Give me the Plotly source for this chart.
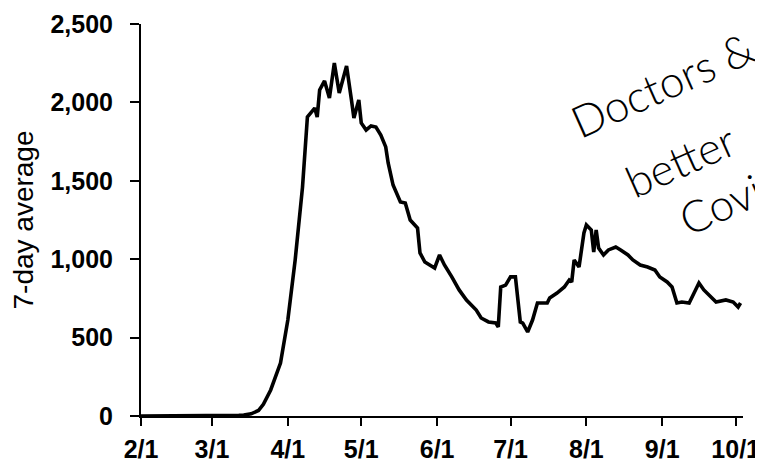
import plotly.graph_objects as go

# ---- data ----
dates = [
    "2020-02-01", "2020-02-15", "2020-02-29", "2020-03-08", "2020-03-12",
    "2020-03-14", "2020-03-17", "2020-03-20", "2020-03-22", "2020-03-25",
    "2020-03-27", "2020-03-29", "2020-04-01", "2020-04-04", "2020-04-07",
    "2020-04-09", "2020-04-12", "2020-04-13", "2020-04-14", "2020-04-16",
    "2020-04-18", "2020-04-20", "2020-04-22", "2020-04-25", "2020-04-27",
    "2020-04-28", "2020-04-30", "2020-05-01", "2020-05-03", "2020-05-05",
    "2020-05-07", "2020-05-09", "2020-05-11", "2020-05-12", "2020-05-14",
    "2020-05-16", "2020-05-17", "2020-05-19", "2020-05-21", "2020-05-24",
    "2020-05-25", "2020-05-27", "2020-05-30", "2020-05-31", "2020-06-02",
    "2020-06-04", "2020-06-07", "2020-06-10", "2020-06-13", "2020-06-17",
    "2020-06-19", "2020-06-22", "2020-06-25", "2020-06-26", "2020-06-27",
    "2020-06-29", "2020-07-01", "2020-07-03", "2020-07-05", "2020-07-06",
    "2020-07-08", "2020-07-10", "2020-07-12", "2020-07-16", "2020-07-17",
    "2020-07-20", "2020-07-23", "2020-07-25", "2020-07-26", "2020-07-27",
    "2020-07-29", "2020-07-31", "2020-08-01", "2020-08-03", "2020-08-04",
    "2020-08-05", "2020-08-06", "2020-08-08", "2020-08-10", "2020-08-13",
    "2020-08-15", "2020-08-18", "2020-08-20", "2020-08-23", "2020-08-26",
    "2020-08-29", "2020-08-31", "2020-09-03", "2020-09-05", "2020-09-07",
    "2020-09-09", "2020-09-12", "2020-09-14", "2020-09-16", "2020-09-18",
    "2020-09-21", "2020-09-23", "2020-09-27", "2020-09-30", "2020-10-02",
    "2020-10-03",
]
avg_deaths = [
    0, 0, 0, 1, 4,
    6, 14, 35, 75, 166,
    250, 338, 612, 995, 1460,
    1907, 1964, 1907, 2079, 2137,
    2028, 2251, 2060, 2232, 2015,
    1900, 2015, 1869, 1824, 1850,
    1843, 1792, 1716, 1614, 1473,
    1397, 1365, 1358, 1250, 1199,
    1040, 982, 950, 944, 1027,
    963, 887, 804, 740, 676,
    625, 600, 593, 568, 823,
    835, 887, 887, 600, 593,
    536, 612, 721, 721, 753,
    784, 823, 867, 855, 995,
    950, 1167, 1218, 1186, 1046,
    1186, 1071, 1027, 1059, 1078,
    1059, 1027, 995, 963, 950,
    931, 887, 855, 823, 721,
    727, 721, 784, 848, 804,
    759, 727, 740, 727, 695,
    721,
]

x_tick_vals = ["2020-02-01", "2020-03-01", "2020-04-01", "2020-05-01", "2020-06-01",
               "2020-07-01", "2020-08-01", "2020-09-01", "2020-10-01"]
x_tick_text = ["2/1", "3/1", "4/1", "5/1", "6/1", "7/1", "8/1", "9/1", "10/1"]
y_tick_vals = [0, 500, 1000, 1500, 2000, 2500]
y_title = "7-day average"
notes = ["Doctors &", "better", "Covi"]

x_range = ["2020-02-01", "2020-10-04"]
y_range = [0, 2500]

fig = go.Figure()
fig.add_trace(go.Scatter(
    x=dates, y=avg_deaths, mode="lines",
    line=dict(color="black", width=3.6),
    showlegend=False, hoverinfo="skip",
))

tick_font = dict(family="Liberation Sans, Arial, sans-serif", size=25, color="black", weight="bold")

# the page body adds an 8px offset, so the figure is 8px smaller than the window
fig.update_layout(
    width=755, height=451,
    margin=dict(l=133, r=20, t=16, b=43),
    paper_bgcolor="white", plot_bgcolor="white",
    xaxis=dict(
        type="date", range=x_range, tickvals=x_tick_vals, ticktext=x_tick_text,
        showgrid=False, zeroline=False, showline=True, linecolor="black", linewidth=2,
        ticks="outside", ticklen=8, tickwidth=2, tickcolor="black",
        tickfont=tick_font, ticklabelstandoff=2, automargin=False,
        ticklabeloverflow="allow",
    ),
    xaxis2=dict(
        type="date", range=x_range, tickvals=x_tick_vals, overlaying="x",
        showgrid=False, zeroline=False, showline=False, showticklabels=False,
        ticks="inside", ticklen=7, tickwidth=2, tickcolor="black", automargin=False,
    ),
    yaxis=dict(
        range=y_range, tickvals=y_tick_vals, tickformat=",",
        showgrid=False, zeroline=False, showline=True, linecolor="black", linewidth=2,
        ticks="outside", ticklen=9, tickwidth=2, tickcolor="black",
        tickfont=tick_font, ticklabelstandoff=12, automargin=False,
        ticklabeloverflow="allow",
        title=dict(text=y_title, font=dict(family="Liberation Sans, Arial, sans-serif",
                                             size=28, color="#000000"), standoff=18),
    ),
    yaxis2=dict(
        range=y_range, tickvals=y_tick_vals, overlaying="y", side="left",
        showgrid=False, zeroline=False, showline=False, showticklabels=False,
        ticks="inside", ticklen=7, tickwidth=2, tickcolor="black", automargin=False,
    ),
)

note_font = dict(family="Lato, DejaVu Sans, sans-serif", size=44, color="black", weight=300)
note_pos = [(0.866, 0.846), (0.896, 0.652), (0.962, 0.540)]
for txt, (px, py) in zip(notes, note_pos):
    fig.add_annotation(
        text=txt, xref="paper", yref="paper", x=px, y=py,
        showarrow=False, textangle=-24, font=note_font,
        xanchor="center", yanchor="middle",
    )

fig.write_html("out.html")
